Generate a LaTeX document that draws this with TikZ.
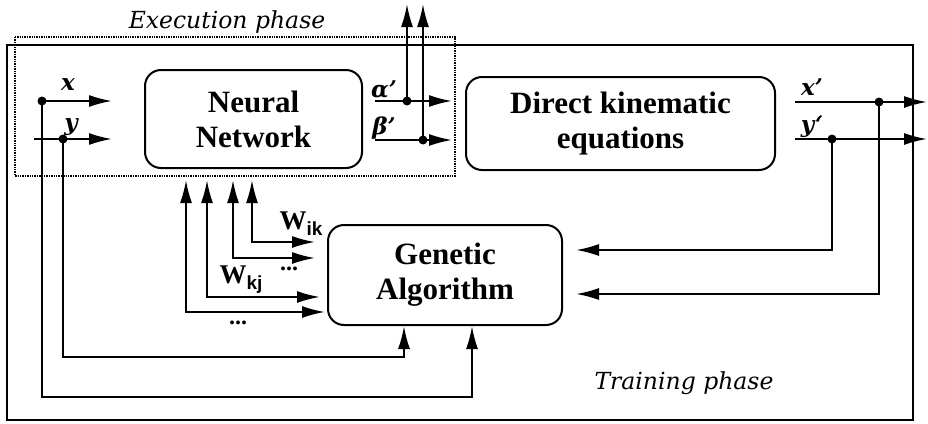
\documentclass[tikz,border=0pt]{standalone}
\usepackage{fontspec}
\setmainfont{Liberation Serif}
\newfontfamily\labfont{DejaVu Serif}
\newfontfamily\subfont{Liberation Sans}
\usetikzlibrary{arrows.meta}
\newcommand\wlab[1]{\textbf{W}\raisebox{-6pt}{\subfont\bfseries\fontsize{19}{19}\selectfont #1}}
\begin{document}
\begin{tikzpicture}[x=1pt,y=-1pt,
  ln/.style={line width=2pt},
  frame/.style={line width=2pt},
  dotframe/.style={line width=1.4pt, densely dotted},
  box/.style={draw, line width=2pt, rounded corners=16pt, align=center, inner sep=0pt,
    font=\fontsize{31}{35}\selectfont\bfseries},
  arr/.style={ln, -{Latex[length=23pt,width=12pt]}},
  dbl/.style={ln, {Latex[length=23pt,width=12pt]}-{Latex[length=23pt,width=12pt]}},
  dot/.style={circle, fill, inner sep=0pt, minimum size=9pt},
  lab/.style={font=\labfont\bfseries\itshape\fontsize{23}{26}\selectfont, inner sep=0pt},
  phase/.style={font=\labfont\itshape\fontsize{23.5}{27}\selectfont, inner sep=0pt},
  wl/.style={font=\fontsize{27}{30}\selectfont, inner sep=0pt},
  ell/.style={font=\fontsize{24}{26}\selectfont\bfseries, inner sep=0pt}]
\useasboundingbox (0,0) rectangle (928,423);
% frames
\draw[frame] (7,45) rectangle (913,420);
\draw[dotframe] (15,37) rectangle (455,176);
\node[phase] (exec) at (227,22) {Execution phase};
\node[phase] (train) at (684,383) {Training phase};
% blocks
\node[box, minimum width=217pt, minimum height=98pt] (nn) at (253.5,119) {Neural\\Network};
\node[box, minimum width=309pt, minimum height=93pt] (dke) at (620.5,123.5) {Direct kinematic\\equations};
\node[box, minimum width=234pt, minimum height=100pt] (ga) at (445,275) {Genetic\\Algorithm};
% inputs x, y
\node[dot] (dx) at (42,101) {};
\node[dot] (dy) at (63,139) {};
\coordinate (ys) at (34,139);
\coordinate (xt) at (112,101);
\coordinate (yt) at (112,139);
\draw[arr] (dx.center) -- (xt);
\draw[arr] (ys) -- (yt);
\node[lab] (lx) at (68,85) {x};
\node[lab] (ly) at (71,127) {y};
% outputs alpha', beta'
\coordinate (as) at (375,101);
\coordinate (bs) at (375,140);
\node[dot] (da) at (407,101) {};
\node[dot] (db) at (423,140) {};
\coordinate (atip) at (452,101);
\coordinate (btip) at (452,140);
\coordinate (aup) at (407,4);
\coordinate (bup) at (423,4);
\draw[arr] (as) -- (atip);
\draw[arr] (bs) -- (btip);
\draw[arr] (da.center) -- (aup);
\draw[arr] (db.center) -- (bup);
\node[lab] (la) at (384,90) {α’};
\node[lab] (lb) at (384,128) {β’};
% outputs x', y'
\coordinate (xps) at (795,102);
\coordinate (yps) at (795,139);
\coordinate (xpt) at (927,102);
\coordinate (ypt) at (927,139);
\node[dot] (dxp) at (879,102) {};
\node[dot] (dyp) at (832,139) {};
\draw[arr] (xps) -- (xpt);
\draw[arr] (yps) -- (ypt);
\node[lab] (lxp) at (812,87) {x’};
\node[lab] (lyp) at (812,127) {y‘};
% feedback to GA (right)
\coordinate (gr1) at (576,250);
\coordinate (gr2) at (576,294);
\draw[arr] (dyp.center) |- (gr1);
\draw[arr] (dxp.center) |- (gr2);
% feedback to GA (bottom)
\coordinate (b1) at (404,357);
\coordinate (b2) at (472,397);
\draw[arr] (dy.center) |- (b1) -- (b1 |- ga.south);
\draw[arr] (dx.center) |- (b2) -- (b2 |- ga.south);
% weights
\coordinate (w1g) at (315,242);
\coordinate (w2g) at (315,258);
\coordinate (w3g) at (320,297);
\coordinate (w4g) at (325,312);
\coordinate (w1n) at (252,180);
\coordinate (w2n) at (233,180);
\coordinate (w3n) at (207,180);
\coordinate (w4n) at (186,180);
\draw[dbl] (w1g) -| (w1n);
\draw[dbl] (w2g) -| (w2n);
\draw[dbl] (w3g) -| (w3n);
\draw[dbl] (w4g) -| (w4n);
\node[wl] (wik) at (301,224) {\wlab{ik}};
\node[wl] (wkj) at (241,280) {\wlab{kj}};
\node[ell] (e1) at (289,269) {...};
\node[ell] (e2) at (238,323) {...};
\end{tikzpicture}
\end{document}
